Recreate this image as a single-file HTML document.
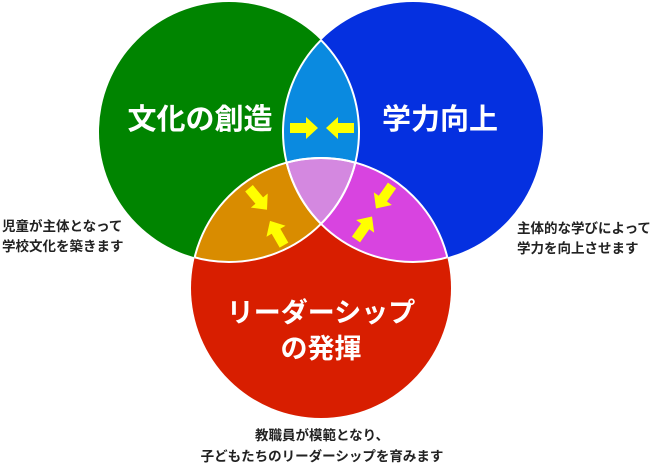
<!DOCTYPE html>
<html><head><meta charset="utf-8"><style>
html,body{margin:0;padding:0;background:#fff;width:656px;height:466px;overflow:hidden}
svg text{font-family:"Liberation Sans","Noto Sans CJK JP",sans-serif;font-weight:bold}
</style></head><body>
<svg width="656" height="466" viewBox="0 0 656 466" xmlns="http://www.w3.org/2000/svg">
<defs>
<clipPath id="g"><circle cx="229" cy="132" r="130"/></clipPath>
<clipPath id="b"><circle cx="413" cy="132" r="130"/></clipPath>
<clipPath id="r"><circle cx="321" cy="288" r="130"/></clipPath>
<polygon id="arr" points="-14,-5 2,-5 2,-11 14,0 2,11 2,5 -14,5" fill="#ffff00"/>
</defs>
<circle cx="229" cy="132" r="130" fill="#008400"/>
<circle cx="413" cy="132" r="130" fill="#0530e0"/>
<circle cx="321" cy="288" r="130" fill="#d81e00"/>
<g clip-path="url(#g)"><circle cx="413" cy="132" r="130" fill="#0a8ae0"/></g>
<g clip-path="url(#g)"><circle cx="321" cy="288" r="130" fill="#d98c00"/></g>
<g clip-path="url(#b)"><circle cx="321" cy="288" r="130" fill="#d844e0"/></g>
<g clip-path="url(#g)"><g clip-path="url(#b)"><circle cx="321" cy="288" r="130" fill="#d488e0"/></g></g>
<g fill="none" stroke="#fff" stroke-width="2">
<g clip-path="url(#g)"><circle cx="413" cy="132" r="130"/><circle cx="321" cy="288" r="130"/></g>
<g clip-path="url(#b)"><circle cx="229" cy="132" r="130"/><circle cx="321" cy="288" r="130"/></g>
<g clip-path="url(#r)"><circle cx="229" cy="132" r="130"/><circle cx="413" cy="132" r="130"/></g>
</g>
<use href="#arr" transform="translate(304,128)"/>
<use href="#arr" transform="translate(340,128) rotate(180)"/>
<use href="#arr" transform="translate(258,199) rotate(50)"/>
<use href="#arr" transform="translate(277,233) rotate(-120)"/>
<use href="#arr" transform="translate(384,197) rotate(125)"/>
<use href="#arr" transform="translate(364,228) rotate(-55)"/>
<g fill="#fff" text-anchor="middle">
<text x="200" y="129" font-size="29">文化の創造</text>
<text x="440" y="129" font-size="29">学力向上</text>
<text x="321" y="322" font-size="27">リーダーシップ</text>
<text x="321" y="358" font-size="27">の発揮</text>
</g>
<g fill="#222" font-size="13.5">
<text x="2" y="231">児童が主体となって</text>
<text x="2" y="251">学校文化を築きます</text>
<text x="517" y="233">主体的な学びによって</text>
<text x="517" y="253">学力を向上させます</text>
<text x="322" y="440" text-anchor="middle">教職員が模範となり、</text>
<text x="322" y="461" text-anchor="middle">子どもたちのリーダーシップを育みます</text>
</g>
</svg>
</body></html>
